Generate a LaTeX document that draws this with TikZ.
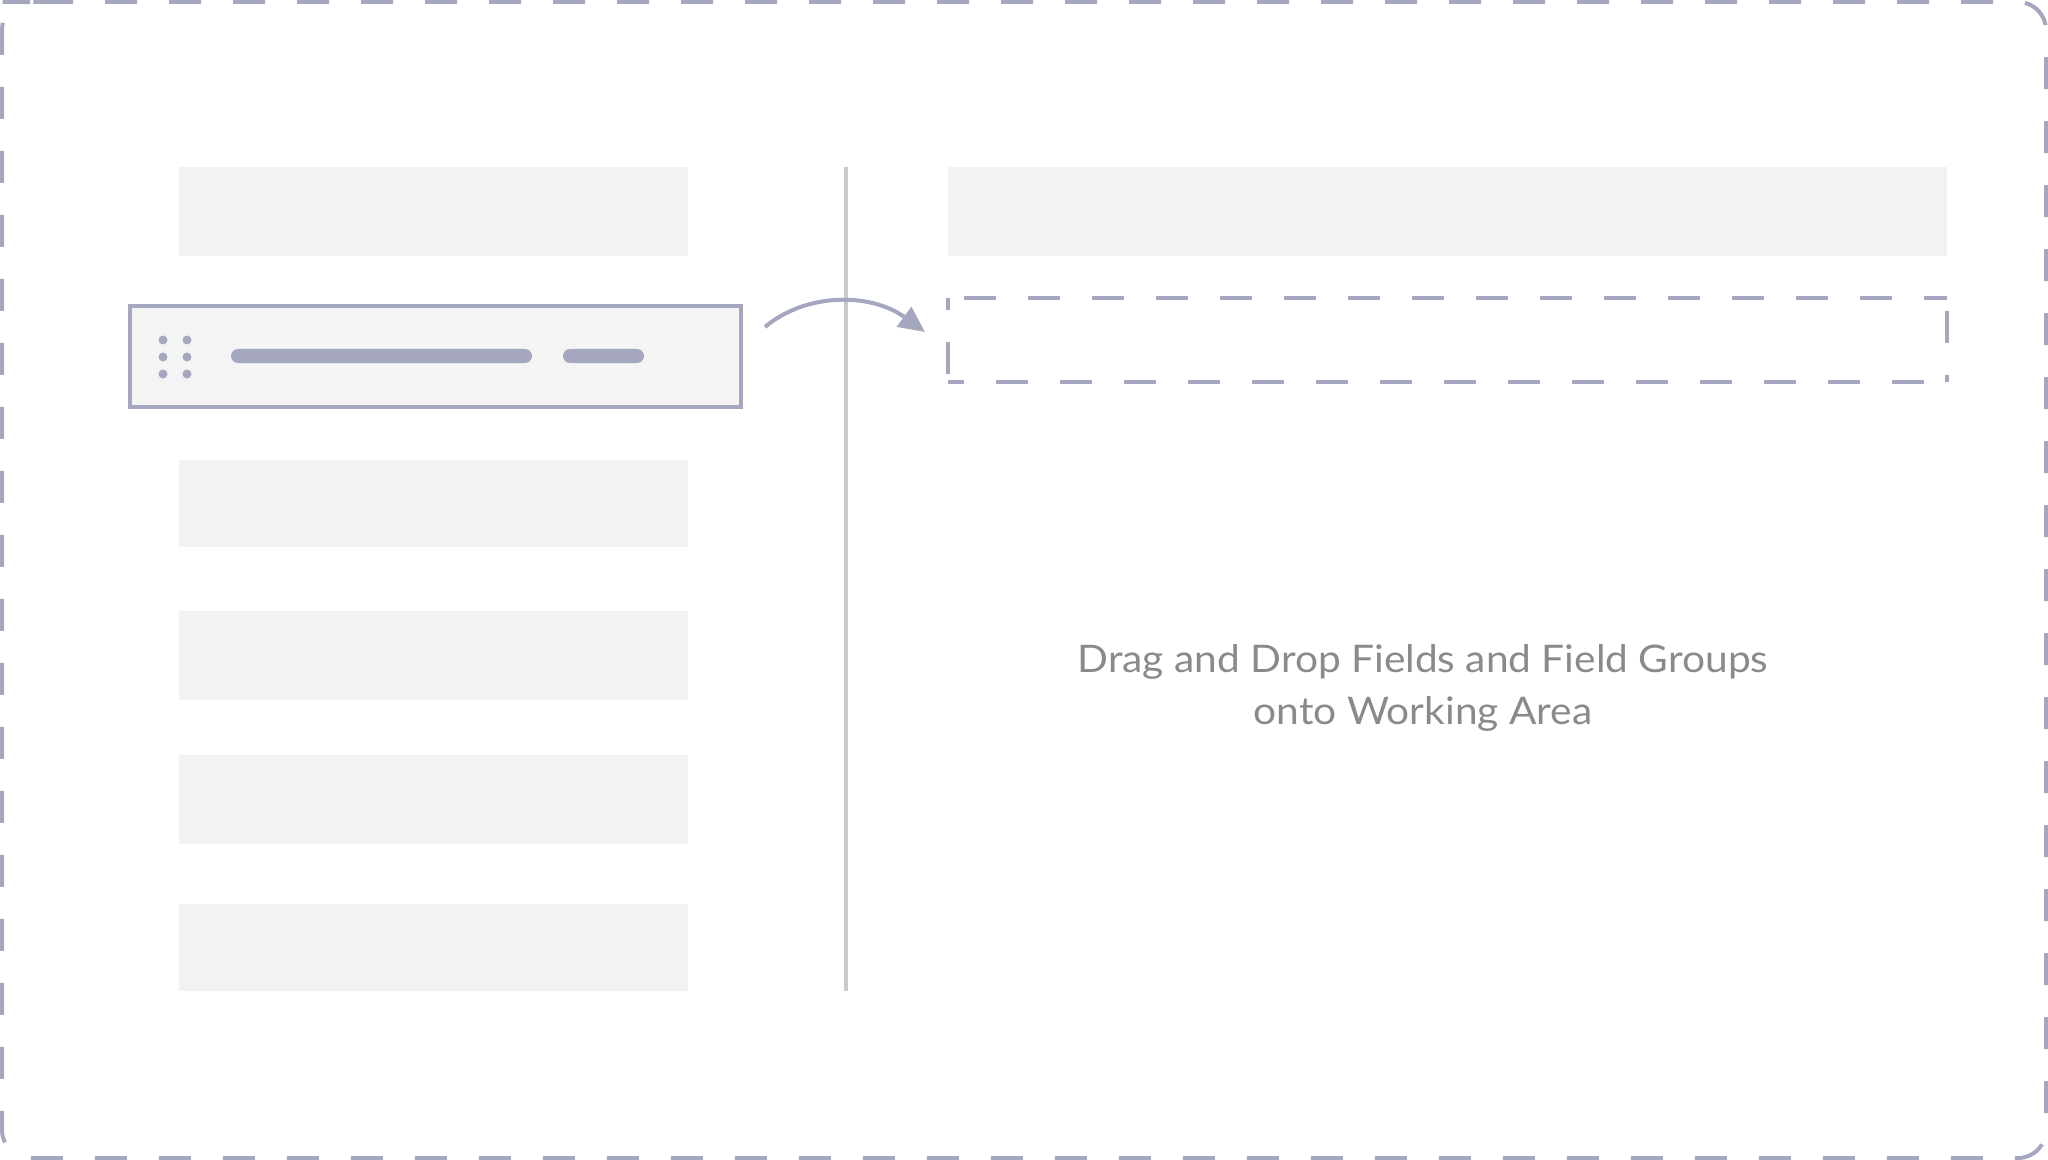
\documentclass[tikz,border=0pt]{standalone}
\usepackage{fontspec}
\setmainfont[FakeStretch=1.07]{Lato}
\usetikzlibrary{arrows.meta}
\definecolor{strokec}{HTML}{A4A7BE}
\definecolor{itemc}{HTML}{F2F2F2}
\definecolor{dragc}{HTML}{F4F4F4}
\definecolor{divc}{HTML}{C9C9C9}
\definecolor{txtc}{HTML}{8A8A8A}
\tikzset{
  x=0.5pt, y=-0.5pt,
  dashbox/.style={draw=strokec, line width=2pt, dash pattern=on 16pt off 16pt},
  item/.style={fill=itemc, draw=none},
  bar/.style={fill=strokec, draw=none, rounded corners=3.5pt},
  dot/.style={fill=strokec, draw=none},
}
\begin{document}
\begin{tikzpicture}
\useasboundingbox (0,0) rectangle (2048,1160);
% outer dashed frame
\draw[dashbox, rounded corners=14pt, dash phase=8.5pt] (30,2) -- (2046,2) -- (2046,1158) -- (2,1158) -- (2,2) -- cycle;
% left list items
\path[item] (179,167) rectangle (688,256);
\path[item] (179,460) rectangle (688,547);
\path[item] (179,611) rectangle (688,700);
\path[item] (179,755) rectangle (688,844);
\path[item] (179,904) rectangle (688,991);
% dragged item
\node[draw=strokec, fill=dragc, line width=2pt, minimum width=305.5pt, minimum height=50.5pt, inner sep=0pt, anchor=north west] (drag) at (128,304) {};
\foreach \xx in {163,187} \foreach \yy in {340,357,374} \fill[dot] (\xx,\yy) circle (4.5);
\path[bar] (231,349) rectangle (532,363);
\path[bar] (563,349) rectangle (644,363);
% divider
\draw[divc, line width=1.75pt] (846,167) -- (846,991);
% right top bar
\path[item] (948,167) rectangle (1947,256);
% dashed target
\node[minimum width=499pt, minimum height=41.5pt, inner sep=0pt, anchor=north west] (target) at (948,298) {};
\draw[dashbox, dash phase=24pt] (target.north west) -- (target.north east);
\draw[dashbox, dash phase=25.5pt] (target.north east) -- (target.south east);
\draw[dashbox, dash phase=8pt] (target.south west) -- (target.south east);
\draw[dashbox, dash phase=10pt] (target.north west) -- (target.south west);
% arrow
\coordinate (s) at (765,327);
\coordinate (e) at (925,332);
\draw[strokec, line width=2pt, -{Triangle[length=13pt,width=12pt]}] (s) .. controls (805,293) and (870,292) .. (e);
% text
\node[text=txtc, font=\fontsize{19}{26}\selectfont, align=center] (lbl) at (1423,688) {Drag and Drop Fields and Field Groups\\onto Working Area};
\end{tikzpicture}
\end{document}
